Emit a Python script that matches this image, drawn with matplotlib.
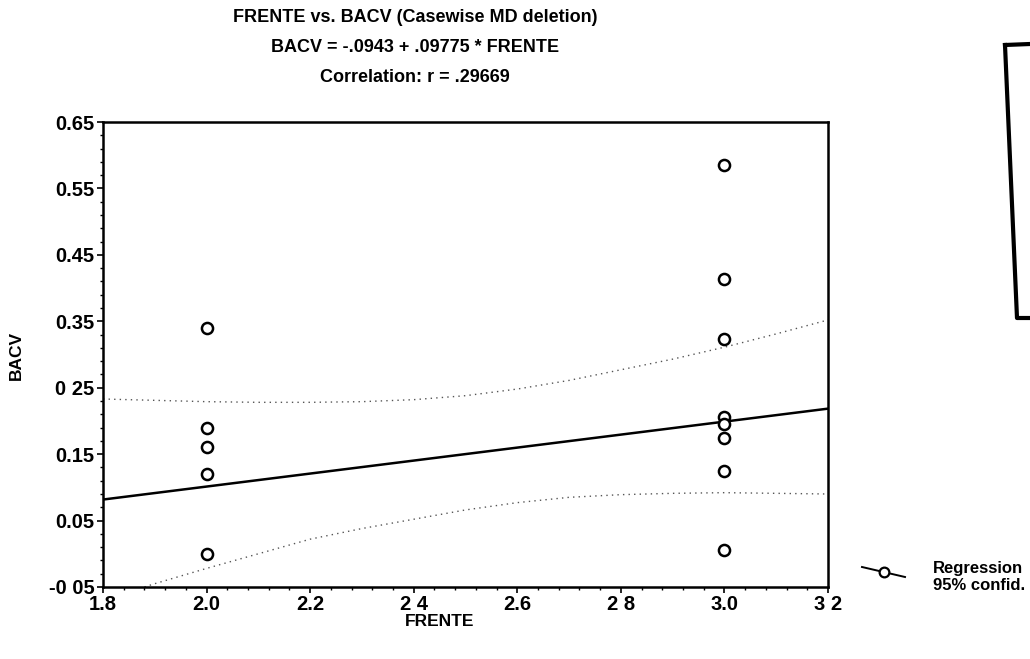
import numpy as np
import matplotlib
matplotlib.use("Agg")
import matplotlib.pyplot as plt
from matplotlib.lines import Line2D
from matplotlib.ticker import AutoMinorLocator

plt.rcParams['font.family'] = ['Liberation Sans', 'DejaVu Sans']

# ---- data ----
frente_2 = [2.0, 2.0, 2.0, 2.0, 2.0]
bacv_2 = [0.34, 0.19, 0.16, 0.12, 0.00]
frente_3 = [3.0, 3.0, 3.0, 3.0, 3.0, 3.0, 3.0, 3.0]
bacv_3 = [0.585, 0.413, 0.324, 0.206, 0.195, 0.174, 0.124, 0.006]

intercept = -0.0943
slope = 0.09775

ci_upper_x = [1.8, 1.9, 2.0, 2.1, 2.2, 2.3, 2.4, 2.5, 2.6, 2.7, 2.8, 2.9, 3.0, 3.1, 3.2]
ci_upper_y = [0.233, 0.231, 0.229, 0.228, 0.228, 0.229, 0.232, 0.238, 0.248, 0.261, 0.277, 0.293, 0.311, 0.331, 0.352]
ci_lower_x = [1.88, 1.9, 2.0, 2.1, 2.2, 2.3, 2.4, 2.5, 2.6, 2.7, 2.8, 2.9, 3.0, 3.1, 3.2]
ci_lower_y = [-0.05, -0.045, -0.022, 0.0, 0.022, 0.038, 0.052, 0.066, 0.077, 0.085, 0.089, 0.091, 0.092, 0.091, 0.090]

xticks = [1.8, 2.0, 2.2, 2.4, 2.6, 2.8, 3.0, 3.2]
xticklabels = ["1.8", "2.0", "2.2", "2 4", "2.6", "2 8", "3.0", "3 2"]
yticks = [-0.05, 0.05, 0.15, 0.25, 0.35, 0.45, 0.55, 0.65]
yticklabels = ["-0 05", "0.05", "0.15", "0 25", "0.35", "0.45", "0.55", "0.65"]

title_lines = ["FRENTE vs. BACV (Casewise MD deletion)",
               "BACV = -.0943 + .09775 * FRENTE",
               "Correlation: r = .29669"]

W, H = 1030, 659
fig = plt.figure(figsize=(W / 100, H / 100), dpi=100)
ax = fig.add_axes([103 / W, 1 - 587 / H, 725 / W, 465 / H])

ax.set_xlim(1.8, 3.2)
ax.set_ylim(-0.05, 0.65)

# regression line
xr = np.array([1.8, 3.2])
ax.plot(xr, intercept + slope * xr, color='black', lw=1.8, zorder=3)

# confidence bands
ax.plot(ci_upper_x, ci_upper_y, color='#555555', lw=1.0, ls=(0, (1, 3)), zorder=2)
ax.plot(ci_lower_x, ci_lower_y, color='#555555', lw=1.0, ls=(0, (1, 3)), zorder=2)

# points
ax.plot(frente_2 + frente_3, bacv_2 + bacv_3, ls='none', marker='o', ms=8,
        mfc='white', mec='black', mew=1.8, zorder=4)

ax.set_xticks(xticks)
ax.set_xticklabels(xticklabels, fontweight='bold')
ax.set_yticks(yticks)
ax.set_yticklabels(yticklabels, fontweight='bold')
ax.xaxis.set_minor_locator(AutoMinorLocator(5))
ax.yaxis.set_minor_locator(AutoMinorLocator(5))
ax.tick_params(axis='both', which='major', direction='out', length=4, width=1.2,
               labelsize=14.5, pad=2, color='black')
ax.tick_params(axis='both', which='minor', direction='out', length=2, width=1.0)
for s in ax.spines.values():
    s.set_linewidth(1.8)
    s.set_color('black')

fig.text(440 / W, 1 - 621 / H, "FRENTE", ha='center', va='center', fontsize=12.5,
         fontweight='bold')
fig.text(16 / W, 1 - 355 / H, "BACV", ha='center', va='center', rotation=90, fontsize=12.5,
         fontweight='bold')

for t, y in zip(title_lines, [18, 48, 78]):
    fig.text(415 / W, 1 - y / H, t, ha='center', va='center', fontsize=13,
             fontweight='bold')

# legend
fig.add_artist(Line2D([862 / W, 905 / W], [1 - 567 / H, 1 - 577 / H],
                      transform=fig.transFigure, color='black', lw=1.4))
fig.add_artist(Line2D([884 / W], [1 - 572 / H], transform=fig.transFigure,
                      marker='o', ms=7, mfc='white', mec='black', mew=1.6, ls='none'))
fig.text(933 / W, 1 - 568 / H, "Regression", ha='left', va='center', fontsize=12,
         fontweight='bold')
fig.text(933 / W, 1 - 586 / H, "95% confid.", ha='left', va='center', fontsize=12,
         fontweight='bold')

# edge of neighbouring box (right)
fig.add_artist(Line2D([1005 / W, 1017 / W, 1030 / W], [1 - 45 / H, 1 - 318 / H, 1 - 318 / H],
                      transform=fig.transFigure, color='black', lw=3))
fig.add_artist(Line2D([1005 / W, 1030 / W], [1 - 45 / H, 1 - 44 / H],
                      transform=fig.transFigure, color='black', lw=3))

fig.savefig("out.png", dpi=100)
